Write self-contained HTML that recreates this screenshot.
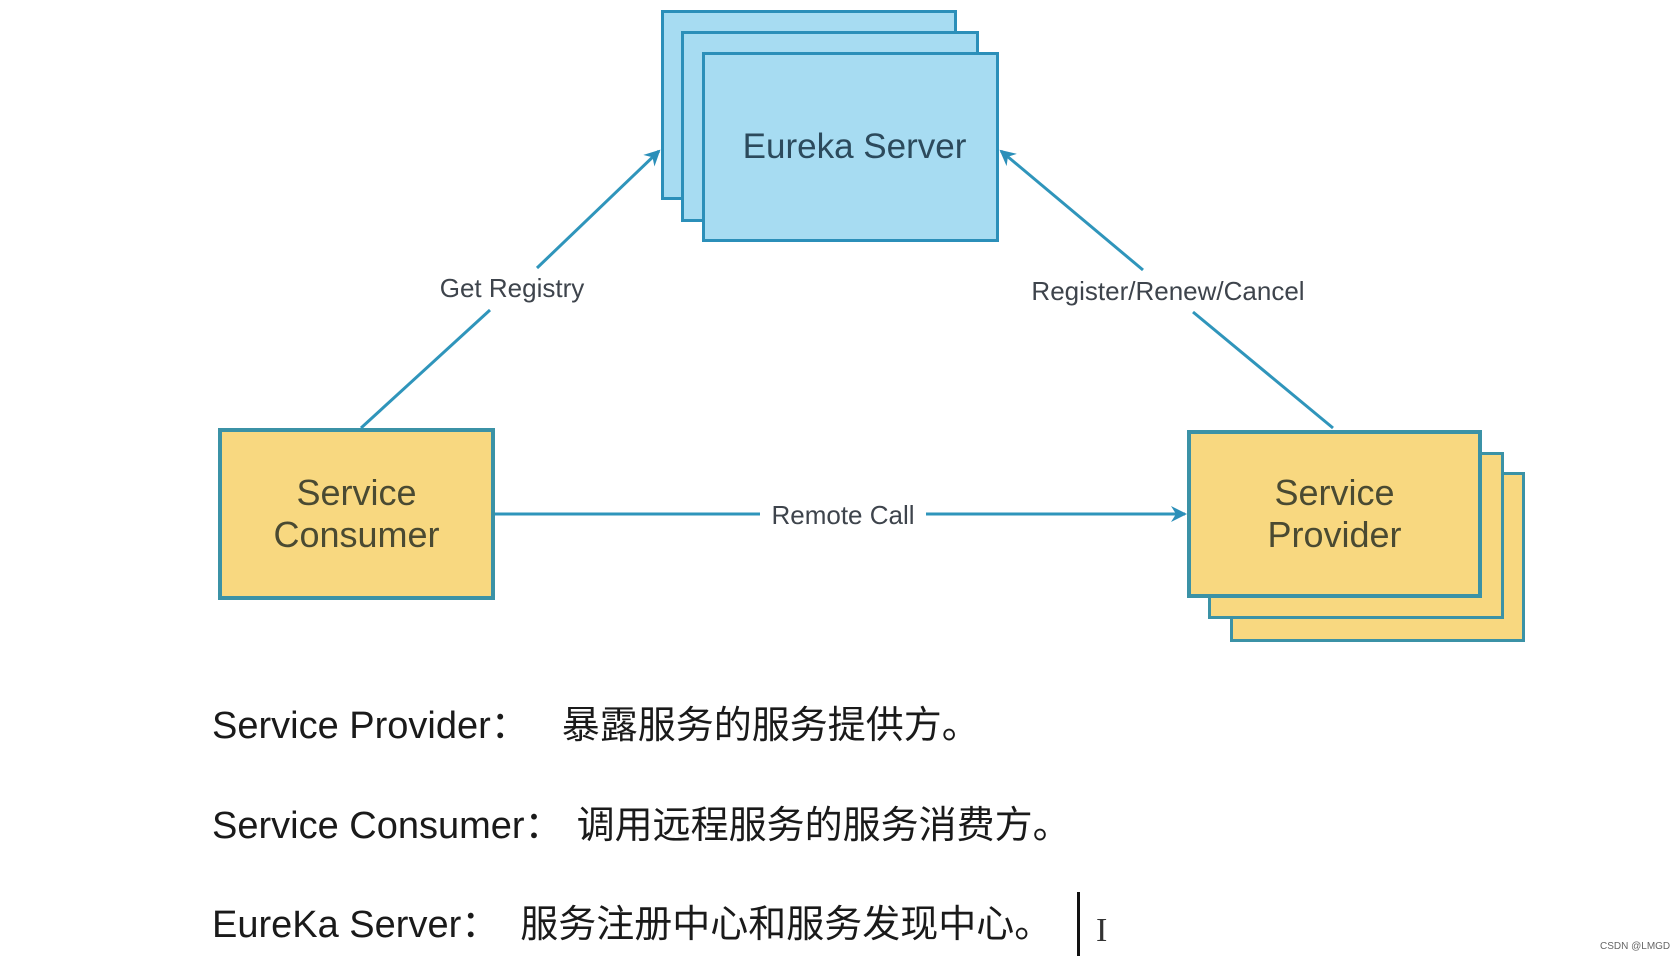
<!DOCTYPE html>
<html><head><meta charset="utf-8"><style>
html,body{margin:0;padding:0;background:#fff;}
body{width:1679px;height:960px;position:relative;overflow:hidden;font-family:"Liberation Sans","Noto Sans CJK SC",sans-serif;}
.b{position:absolute;box-sizing:border-box;}
.blue{background:#a7dcf2;border:3px solid #2b8fb9;}
.yel{background:#f8d880;border:4px solid #3b92a6;}
.t{position:absolute;color:#3c4a40;text-align:center;}
.line{position:absolute;font-size:38px;color:#1a1a1a;left:212px;font-family:"Liberation Sans","Noto Sans CJK SC",sans-serif;white-space:nowrap;}
</style></head><body>
<div class="b blue" style="left:661px;top:10px;width:296px;height:190px;"></div>
<div class="b blue" style="left:681px;top:31px;width:298px;height:191px;"></div>
<div class="b blue" style="left:702px;top:52px;width:297px;height:190px;"></div>
<div class="t" style="left:706px;top:127px;width:297px;font-size:35px;color:#2c4a5c;">Eureka Server</div>

<div class="b yel" style="left:218px;top:428px;width:277px;height:172px;"></div>
<div class="t" style="left:218px;top:472px;width:277px;font-size:36px;line-height:42px;color:#4a4a32;">Service<br>Consumer</div>

<div class="b yel" style="left:1230px;top:472px;width:295px;height:170px;border-width:3px;"></div>
<div class="b yel" style="left:1208px;top:452px;width:296px;height:167px;border-width:3px;"></div>
<div class="b yel" style="left:1187px;top:430px;width:295px;height:168px;"></div>
<div class="t" style="left:1187px;top:472px;width:295px;font-size:36px;line-height:42px;color:#4a4a32;">Service<br>Provider</div>

<svg width="1679" height="960" style="position:absolute;left:0;top:0;">
<defs>
<marker id="a2" markerWidth="16" markerHeight="16" refX="14" refY="8" orient="auto" markerUnits="userSpaceOnUse"><path d="M0,0 L16,8 L0,16 L5,8 z" fill="#2b8fb9"/></marker></defs>
<g stroke="#2f95bb" stroke-width="3" fill="none">
<line x1="361" y1="428" x2="490" y2="310"/>
<line x1="537" y1="268" x2="659" y2="151" marker-end="url(#a2)"/>
<line x1="1333" y1="428" x2="1193" y2="312"/>
<line x1="1143" y1="270" x2="1001" y2="151" marker-end="url(#a2)"/>
<line x1="495" y1="514" x2="760" y2="514"/>
<line x1="926" y1="514" x2="1185" y2="514" marker-end="url(#a2)"/>
</g>
<text x="512" y="297" font-size="26" fill="#3e444c" text-anchor="middle" font-family="Liberation Sans">Get Registry</text>
<text x="1168" y="300" font-size="26" fill="#3e444c" text-anchor="middle" font-family="Liberation Sans">Register/Renew/Cancel</text>
<text x="843" y="524" font-size="26" fill="#3e444c" text-anchor="middle" font-family="Liberation Sans">Remote Call</text>
</svg>

<div class="line" style="top:694px;">Service Provider：<span style="margin-left:33px">暴露服务的服务提供方。</span></div>
<div class="line" style="top:794px;">Service Consumer：<span style="margin-left:14px">调用远程服务的服务消费方。</span></div>
<div class="line" style="top:893px;">EureKa Server：<span style="margin-left:21px">服务注册中心和服务发现中心。</span></div>
<div class="b" style="left:1077px;top:892px;width:3px;height:64px;background:#111;"></div>
<div class="b" style="left:1096px;top:912px;font-size:34px;color:#333;font-family:'Liberation Serif',serif;">I</div>
<div class="b" style="left:1600px;top:941px;font-size:10px;color:#666;">CSDN @LMGD</div>
</body></html>
